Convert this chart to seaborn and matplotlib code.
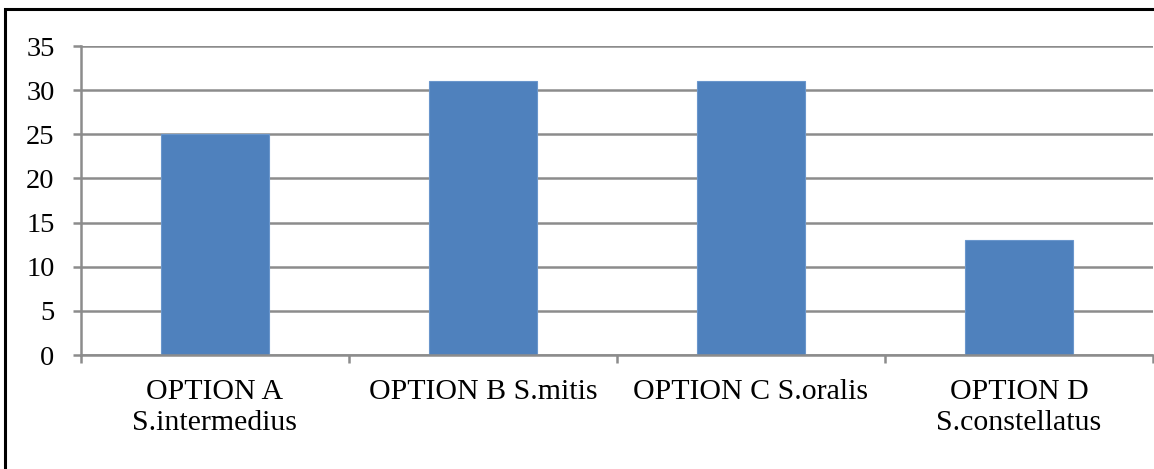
import numpy as np
import pandas as pd
import seaborn as sns
import matplotlib.pyplot as plt
from matplotlib.patches import Rectangle

categories = ['OPTION A\nS.intermedius', 'OPTION B S.mitis', 'OPTION C S.oralis', 'OPTION D\nS.constellatus']
counts = [25, 31, 31, 13]
yticks = [0, 5, 10, 15, 20, 25, 30, 35]

df = pd.DataFrame({'option': categories, 'count': counts})

sns.set_style('white')
plt.rcParams['font.family'] = ['Liberation Serif', 'DejaVu Serif']

fig = plt.figure(figsize=(11.54, 4.69), dpi=100)
ax = fig.add_axes([81 / 1154, 114 / 469, 1072 / 1154, 309 / 469])

sns.barplot(data=df, x='option', y='count', color='#4F81BD', saturation=1,
            width=0.4, ax=ax, zorder=3, edgecolor='#6a96cc', linewidth=0.8)

ax.set_ylim(0, 35)
ax.set_xlim(-0.5, 3.5)
ax.set_yticks(yticks)
ax.set_yticklabels([str(v) for v in yticks], fontsize=20.5, color='black')
ax.set_xticks(np.arange(len(categories)))
ax.set_xticklabels(categories, fontsize=21.5, color='black', linespacing=1.25)
ax.set_xticks(np.arange(-0.5, len(categories)), minor=True)
ax.set_xlabel('')
ax.set_ylabel('')

ax.grid(axis='y', color='#8c8c8c', linewidth=1.8, zorder=0)
ax.grid(axis='x', visible=False)
for s in ['top', 'right']:
    ax.spines[s].set_visible(False)
for s in ['left', 'bottom']:
    ax.spines[s].set_color('#8c8c8c')
    ax.spines[s].set_linewidth(1.8)
    ax.spines[s].set_zorder(4)

ax.tick_params(axis='y', which='major', length=6, width=1.8, color='#8c8c8c', pad=13, left=True)
ax.tick_params(axis='x', which='major', length=0, pad=17)
ax.tick_params(axis='x', which='minor', length=6, width=1.8, color='#8c8c8c', bottom=True)

fig.add_artist(Rectangle((5 / 1154, -0.1), 1.2, (469 - 9) / 469 + 0.1,
                         transform=fig.transFigure, fill=False,
                         edgecolor='black', linewidth=2.2))

plt.savefig('out.png', dpi=100)
